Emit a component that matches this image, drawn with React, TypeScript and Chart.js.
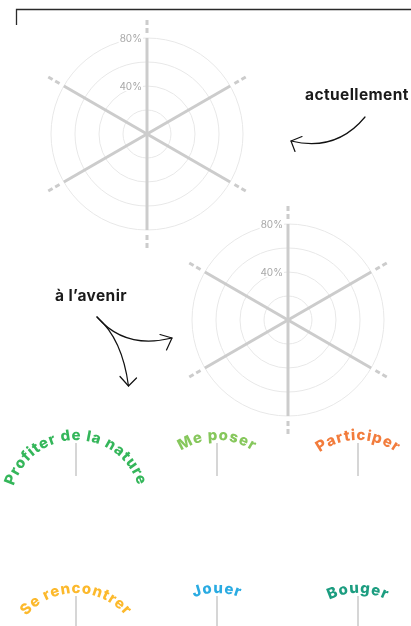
import React, { useEffect, useRef } from "react";
import { Chart, registerables } from "chart.js";

Chart.register(...registerables);

// ---- data ----
const categories = [
  "Profiter de la nature",
  "Me poser",
  "Participer",
  "Se rencontrer",
  "Jouer",
  "Bouger",
];
const categoryColors = ["#34b65a", "#86c75c", "#f27c3c", "#fcb92c", "#2aabe2", "#1c9d80"];
// no values are drawn in the reference: both series are empty
const valuesActuellement: (number | null)[] = [null, null, null, null, null, null];
const valuesAvenir: (number | null)[] = [null, null, null, null, null, null];
const seriesTitles = ["actuellement", "à l’avenir"];
const scaleMax = 80;
const scaleStep = 20;
const tickLabelValues = [40, 80];

const FONT = 'Inter, "Liberation Sans", Arial, sans-serif';

const spokePlugin = {
  id: "spokeExtras",
  afterDraw(chart: any) {
    const scale = chart.scales.r;
    const ctx = chart.ctx;
    const outer = scale.getDistanceFromCenterForValue(scaleMax);
    ctx.save();
    ctx.strokeStyle = "#cccccc";
    ctx.lineWidth = 3;
    ctx.setLineDash([5, 3]);
    for (let i = 0; i < categories.length; i++) {
      const a = scale.getPointPosition(i, outer + 5);
      const b = scale.getPointPosition(i, outer + 18);
      ctx.beginPath();
      ctx.moveTo(a.x, a.y);
      ctx.lineTo(b.x, b.y);
      ctx.stroke();
    }
    ctx.setLineDash([]);
    ctx.font = `10px ${FONT}`;
    ctx.textAlign = "right";
    ctx.textBaseline = "middle";
    for (const v of tickLabelValues) {
      const p = scale.getPointPositionForValue(0, v);
      const label = `${v}%`;
      const w = ctx.measureText(label).width;
      ctx.fillStyle = "#ffffff";
      ctx.fillRect(p.x - 5 - w - 1, p.y - 6, w + 2, 11);
      ctx.fillStyle = "#a8a8a8";
      ctx.fillText(label, p.x - 5, p.y + 0.5);
    }
    ctx.restore();
  },
};

function RadarChart({ values, title, left, top }: { values: (number | null)[]; title: string; left: number; top: number }) {
  const ref = useRef<HTMLCanvasElement | null>(null);
  useEffect(() => {
    if (!ref.current) return;
    const chart = new Chart(ref.current, {
      type: "radar",
      data: {
        labels: categories,
        datasets: [
          {
            label: title,
            data: values as any,
            borderColor: "#555",
            backgroundColor: "rgba(0,0,0,0.05)",
            pointRadius: 0,
            borderWidth: 2,
          },
        ],
      },
      options: {
        animation: false,
        responsive: false,
        maintainAspectRatio: false,
        layout: { padding: 20 },
        plugins: { legend: { display: false }, tooltip: { enabled: false } },
        scales: {
          r: {
            min: 0,
            max: scaleMax,
            ticks: { stepSize: scaleStep, display: false },
            grid: { color: "#e8e8e8", lineWidth: 1, circular: true },
            angleLines: { color: "#cccccc", lineWidth: 3 },
            pointLabels: { display: false },
          },
        },
      } as any,
      plugins: [spokePlugin],
    });
    return () => chart.destroy();
  }, []);
  return (
    <canvas
      ref={ref}
      width={232}
      height={232}
      style={{ position: "absolute", left, top, width: 232, height: 232 }}
    />
  );
}

const labelCols = [76, 217, 358];
const labelRows = [440, 593];
const ARC_R = 65;

export default function App() {
  return (
    <div
      style={{
        position: "absolute",
        left: 0,
        top: 0,
        width: 411,
        height: 626,
        overflow: "hidden",
        background: "#fff",
      }}
    >
      <RadarChart values={valuesActuellement} title={seriesTitles[0]} left={31} top={18} />
      <RadarChart values={valuesAvenir} title={seriesTitles[1]} left={172} top={204} />
      <svg
        width={411}
        height={626}
        style={{ position: "absolute", left: 0, top: 0, pointerEvents: "none" }}
      >
        <path d="M16.5,25 L16.5,9.5 L411,9.5" fill="none" stroke="#2a2a2a" strokeWidth={1.3} />
        <text x={305} y={100} fontFamily={FONT} fontWeight={700} fontSize={15.5} letterSpacing={0.4} fill="#1a1a1a">
          {seriesTitles[0]}
        </text>
        <text x={55} y={301} fontFamily={FONT} fontWeight={700} fontSize={15.5} letterSpacing={0.4} fill="#1a1a1a">
          {seriesTitles[1]}
        </text>
        <g fill="none" stroke="#111" strokeWidth={1.2} strokeLinecap="round" strokeLinejoin="round">
          <path d="M365,117 Q336,152 291,141" />
          <path d="M302,136.5 L291,141 L295,151.5" />
          <path d="M97,317 C115,338 140,346 172,338" />
          <path d="M160,334.5 L172,338 L166.5,350" />
          <path d="M97,317 C112,330 124,352 128.5,386" />
          <path d="M120,376.5 L128.5,386 L136.5,378" />
        </g>
        {categories.map((c, i) => {
          const cx = labelCols[i % 3];
          const by = labelRows[Math.floor(i / 3)];
          const cy = by + ARC_R;
          const id = `arc${i}`;
          return (
            <g key={c}>
              <path
                id={id}
                d={`M${cx - ARC_R},${cy} A${ARC_R},${ARC_R} 0 0 1 ${cx + ARC_R},${cy}`}
                fill="none"
                stroke="none"
              />
              <text
                fontFamily={FONT}
                fontWeight={800}
                fontSize={15}
                letterSpacing={0.9}
                fill={categoryColors[i]}
              >
                <textPath href={`#${id}`} startOffset="50%" textAnchor="middle">
                  {c}
                </textPath>
              </text>
              <line x1={cx} y1={by + 3} x2={cx} y2={by + 36} stroke="#cccccc" strokeWidth={1.6} />
            </g>
          );
        })}
      </svg>
    </div>
  );
}
